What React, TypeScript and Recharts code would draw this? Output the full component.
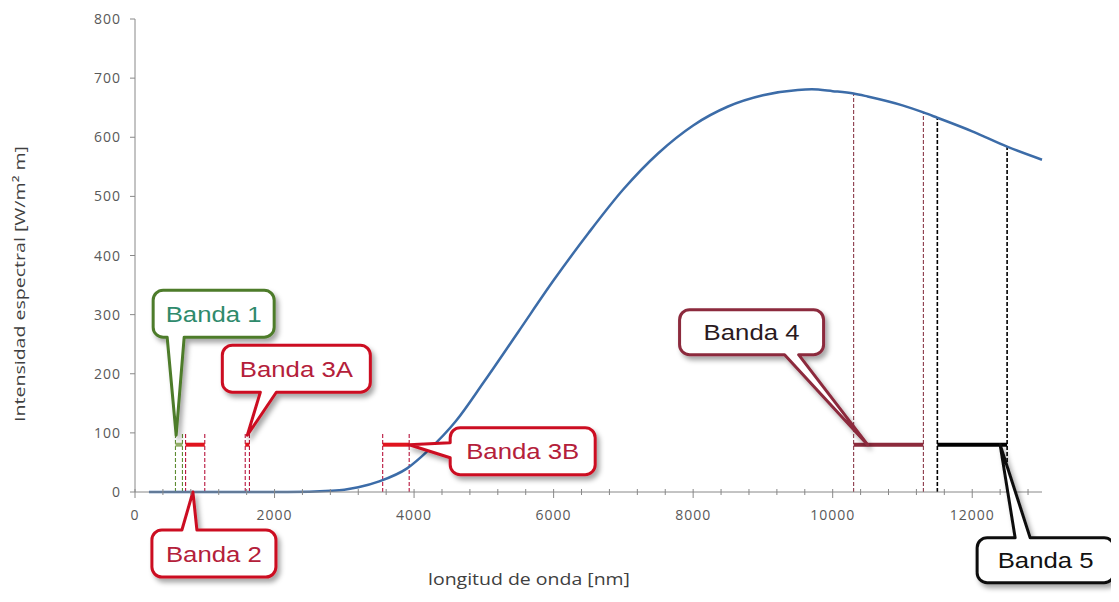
import React from "react";
import { LineChart, Line, XAxis, YAxis, ReferenceLine, ReferenceDot } from "recharts";

// blackbody-like curve
const wavelength = [200, 500, 1000, 1500, 2000, 2500, 2800, 3000, 3200, 3500, 3900, 4200, 4600, 5000, 5500, 6000, 6500, 7000, 7500, 8000, 8500, 9000, 9500, 9700, 10000, 10300, 10500, 11000, 11300, 11500, 12000, 12500, 13000];
const intensity = [0, 0, 0, 0, 0, 0.5, 2, 4, 8, 18, 40, 70, 120, 186, 272, 358, 438, 512, 573, 620, 652, 671, 680, 681, 678, 674, 669, 654, 642, 633, 610, 584, 562];

// sensor bands (nm)
const bandNames = ["Banda 1", "Banda 2", "Banda 3A", "Banda 3B", "Banda 4", "Banda 5"];
const bandStart = [580, 725, 1580, 3550, 10300, 11500];
const bandEnd = [680, 1000, 1640, 3930, 11300, 12500];
const bandLevel = 80;
const guideTop = 100;
const guideToCurve = [false, false, false, false, true, true];

// where each callout points
const tipX = [590, 830, 1610, 3930, 10500, 12400];
const tipY = [96, 0, 96, 80, 80, 80];

const xLabels = [0, 2000, 4000, 6000, 8000, 10000, 12000];
const yTicks = [0, 100, 200, 300, 400, 500, 600, 700, 800];
const xTicks = Array.from({ length: 33 }, (_, i) => i * 400);

const data = wavelength.map((x, i) => ({ x, y: intensity[i] }));

const C = {
  curve: "#3C6CA8",
  axis: "#888888",
  tick: "#595959",
  title: "#404040",
};

// per band styling
const bandStyle = [
  { border: "#4E7B2B", text: "#2F8A6C", bar: "#93AE68", guide: "#5E8C32" },
  { border: "#CC1020", text: "#B4203A", bar: "#E0141E", guide: "#B8143C" },
  { border: "#CC1020", text: "#B4203A", bar: "#E0141E", guide: "#B8143C" },
  { border: "#CC1020", text: "#B4203A", bar: "#E0141E", guide: "#B8143C" },
  { border: "#8C2A3C", text: "#2A1A1E", bar: "#8C2A3C", guide: "#8C3A4A" },
  { border: "#111111", text: "#111111", bar: "#000000", guide: "#000000" },
];

// callout box relative to tip (px): x0,x1,y0,y1, tail side and base
const bubbles = [
  { x0: -23, x1: 98, y0: -145, y1: -98, side: "bottom", b1: -9, b2: 8 },
  { x0: -41, x1: 83, y0: 38, y1: 85, side: "top", b1: -11, b2: 4 },
  { x0: -25, x1: 123, y0: -90, y1: -43, side: "bottom", b1: 13, b2: 29 },
  { x0: 41, x1: 186, y0: -17, y1: 30, side: "left", b1: -2, b2: 13 },
  { x0: -188, x1: -44, y0: -135, y1: -90, side: "bottom", b1: -83, b2: -69 },
  { x0: -23, x1: 114, y0: 93, y1: 138, side: "top", b1: 15, b2: 30 },
];

function bubblePath(b: any) {
  const { x0, x1, y0, y1, side, b1, b2 } = b;
  const r = 10;
  let d = `M${x0 + r},${y0}`;
  if (side === "top") d += ` L${b1},${y0} L0,0 L${b2},${y0}`;
  d += ` L${x1 - r},${y0} A${r},${r} 0 0 1 ${x1},${y0 + r}`;
  d += ` L${x1},${y1 - r} A${r},${r} 0 0 1 ${x1 - r},${y1}`;
  if (side === "bottom") d += ` L${b2},${y1} L0,0 L${b1},${y1}`;
  d += ` L${x0 + r},${y1} A${r},${r} 0 0 1 ${x0},${y1 - r}`;
  if (side === "left") d += ` L${x0},${b2} L0,0 L${x0},${b1}`;
  d += ` L${x0},${y0 + r} A${r},${r} 0 0 1 ${x0 + r},${y0} Z`;
  return d;
}

function Callout({ cx, cy, i }: any) {
  const b = bubbles[i];
  const s = bandStyle[i];
  const mx = (b.x0 + b.x1) / 2;
  const my = (b.y0 + b.y1) / 2;
  return (
    <g transform={`translate(${cx},${cy})`}>
      <path d={bubblePath(b)} fill="#fff" stroke={s.border} strokeWidth={3} strokeLinejoin="round" filter="url(#shadow)" />
      <text
        transform={`translate(${mx},${my + 8}) scale(1.12,1)`}
        textAnchor="middle"
        fontFamily="'Liberation Sans', Arial, sans-serif"
        fontSize={23}
        fill={s.text}
      >
        {bandNames[i]}
      </text>
    </g>
  );
}

function XTick({ x, y, payload }: any) {
  const major = xLabels.includes(payload.value);
  return (
    <g>
      <line x1={x} x2={x} y1={y - 3} y2={y + (major ? 6 : 3)} stroke={C.axis} />
      {major && (
        <text x={x} y={y + 28} textAnchor="middle" fontFamily="'Open Sans', sans-serif" fontSize={14} letterSpacing={1} fill={C.tick}>
          {payload.value}
        </text>
      )}
    </g>
  );
}

function YTick({ x, y, payload }: any) {
  return (
    <g>
      <line x1={x - 5} x2={x} y1={y} y2={y} stroke={C.axis} />
      <text x={x - 14} y={y + 5} textAnchor="end" fontFamily="'Open Sans', sans-serif" fontSize={14} letterSpacing={1} fill={C.tick}>
        {payload.value}
      </text>
    </g>
  );
}

const curveAt = (x: number) => intensity[wavelength.indexOf(x)];

export default function App() {
  const W = 1111;
  const H = 594;
  return (
    <div style={{ width: W, height: H, background: "#fff" }}>
      <LineChart width={W} height={H} data={data} margin={{ top: 11, right: 77, bottom: 80, left: 0 }}>
        <defs>
          <filter id="shadow" x="-30%" y="-30%" width="170%" height="170%">
            <feDropShadow dx={3} dy={4} stdDeviation={2.5} floodColor="#000" floodOpacity={0.35} />
          </filter>
        </defs>
        <XAxis
          type="number"
          dataKey="x"
          domain={[0, 13000]}
          ticks={xTicks}
          interval={0}
          height={30}
          tick={<XTick />}
          tickLine={false}
          tickSize={0}
          tickMargin={0}
          axisLine={{ stroke: C.axis }}
        />
        <YAxis
          type="number"
          domain={[0, 800]}
          ticks={yTicks}
          interval={0}
          width={127}
          tick={<YTick />}
          tickLine={false}
          tickSize={0}
          tickMargin={0}
          axisLine={{ stroke: C.axis }}
        />
        {bandStart.map((s, i) => {
          const e = bandEnd[i];
          const st = bandStyle[i];
          const topS = guideToCurve[i] ? curveAt(s) : guideTop;
          const topE = guideToCurve[i] ? curveAt(e) : guideTop;
          const w = i === 5 ? 1.6 : 1.1;
          return [
            <ReferenceLine key={`gs${i}`} segment={[{ x: s, y: 0 }, { x: s, y: topS }]} stroke={st.guide} strokeWidth={w} strokeDasharray="4 2" />,
            <ReferenceLine key={`ge${i}`} segment={[{ x: e, y: 0 }, { x: e, y: topE }]} stroke={st.guide} strokeWidth={w} strokeDasharray="4 2" />,
          ];
        })}
        <Line type="monotone" dataKey="y" stroke={C.curve} strokeWidth={2.5} dot={false} isAnimationActive={false} />
        {bandStart.map((s, i) => (
          <ReferenceLine
            key={`b${i}`}
            segment={[{ x: s, y: bandLevel }, { x: bandEnd[i], y: bandLevel }]}
            stroke={bandStyle[i].bar}
            strokeWidth={4}
          />
        ))}
        {bandNames.map((_, i) => (
          <ReferenceDot
            key={`c${i}`}
            x={tipX[i]}
            y={tipY[i]}
            r={1}
            ifOverflow="visible"
            shape={(p: any) => <Callout cx={p.cx} cy={p.cy} i={i} />}
          />
        ))}
        <text
          transform="translate(17,276) rotate(-90)"
          textAnchor="middle"
          fontFamily="'Open Sans', sans-serif"
          fontSize={15}
          fill={C.title}
          textLength={276}
          lengthAdjust="spacingAndGlyphs"
        >
          Intensidad espectral [W/m² m]
        </text>
        <text
          x={521}
          y={577}
          textAnchor="middle"
          fontFamily="'Open Sans', sans-serif"
          fontSize={16}
          fill={C.title}
          textLength={202}
          lengthAdjust="spacingAndGlyphs"
        >
          longitud de onda [nm]
        </text>
      </LineChart>
    </div>
  );
}
